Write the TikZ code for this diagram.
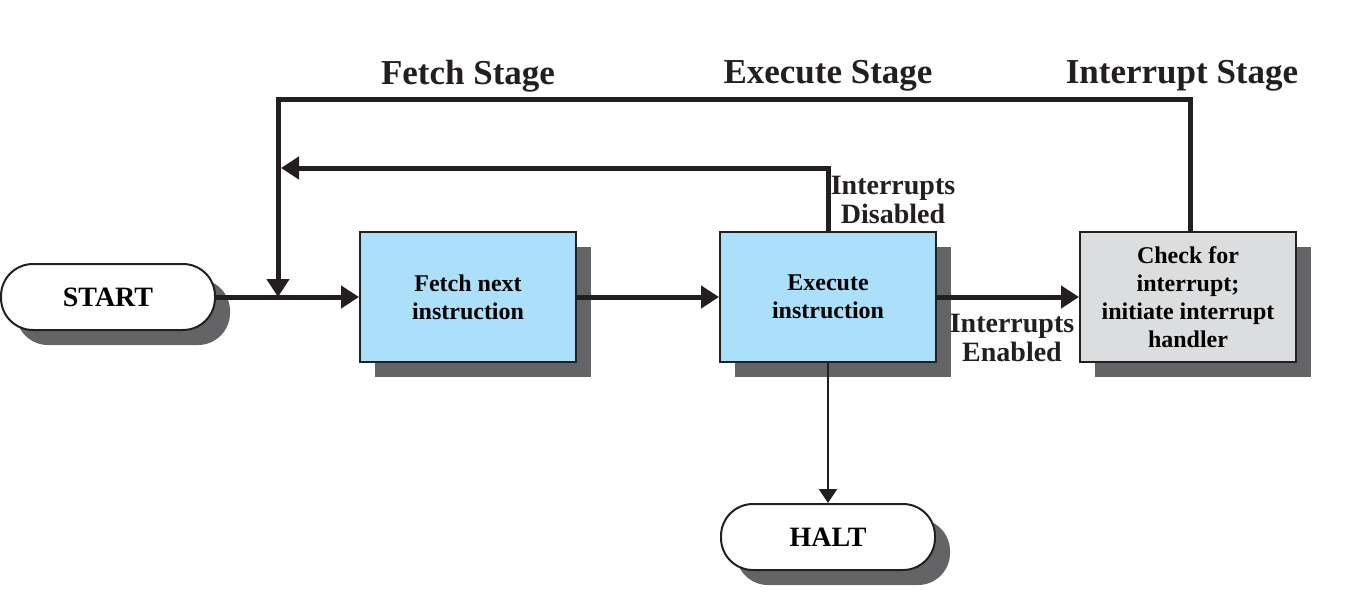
\documentclass[tikz,border=0pt]{standalone}
\usepackage{fontspec}
\setmainfont{Liberation Serif}
\usepackage{tikz}
\usetikzlibrary{arrows.meta,shapes,positioning,shadows}
\usepackage{xcolor}
\definecolor{icblue}{RGB}{172,224,250}
\definecolor{icgray}{RGB}{220,221,222}
\definecolor{icshadow}{RGB}{100,100,102}
\definecolor{icline}{RGB}{35,31,32}
\tikzstyle{flow} = [line width=2.5pt, -{Triangle[length=9pt,width=11pt]}, color=icline]
\tikzstyle{thinflow} = [line width=1pt, -{Triangle[length=7pt,width=9pt]}, color=icline]
\tikzstyle{boxshadow} = [drop shadow={shadow xshift=7.5pt, shadow yshift=-7.5pt, fill=icshadow, opacity=1}]
\tikzstyle{stagebox} = [rectangle, minimum width=108pt, minimum height=65pt, draw=icline, line width=1pt, fill=icblue, text centered, align=center, font={\fontsize{12pt}{14pt}\selectfont\bfseries}, boxshadow]
\tikzstyle{terminal} = [rectangle, rounded corners=16pt, minimum width=107pt, minimum height=33pt, draw=icline, line width=1pt, fill=white, font={\fontsize{14pt}{16pt}\selectfont\bfseries}, boxshadow]
\tikzstyle{stagelabel} = [font={\fontsize{17.5pt}{21pt}\selectfont\bfseries}, text=icline]
\tikzstyle{condlabel} = [align=center, inner sep=0pt, font={\fontsize{14pt}{14.5pt}\selectfont\bfseries}, text=icline]

\begin{document}
\begin{tikzpicture}[x=0.5pt, y=-0.5pt]
\useasboundingbox (0,0) rectangle (1369,612);

% Stage headings
\node[stagelabel] (fetchstage) at (468,76) {Fetch Stage};
\node[stagelabel] (execstage) at (828,76) {Execute Stage};
\node[stagelabel] (intstage) at (1182,76) {Interrupt Stage};

% Terminals and boxes
\node[terminal] (start) at (108,297) {START};
\node[stagebox] (fetch) at (468,297) {Fetch next\\instruction};
\node[stagebox] (execute) at (828,297) {Execute\\instruction};
\node[stagebox, fill=icgray] (check) at (1188,297) {Check for\\interrupt;\\initiate interrupt\\handler};
\node[terminal] (halt) at (828,537) {HALT};

% Main cycle
\coordinate (join) at (278,297);
\coordinate (disabled) at (281,168);
\draw[flow] (start) -- (fetch);
\draw[flow] (fetch) -- (execute);
\draw[flow] (execute) -- (check);
\node[condlabel] (enabled) at (1012,338) {Interrupts\\Enabled};

% Return paths
\draw[flow] (execute.north) |- (disabled);
\node[condlabel] (disabledlbl) at (893,200) {Interrupts\\Disabled};
\draw[flow] ([xshift=1pt]check.north) -- ++(0,-132) -| (join);

% Halt
\draw[thinflow] (execute.south) -- (halt.north);
\end{tikzpicture}
\end{document}
